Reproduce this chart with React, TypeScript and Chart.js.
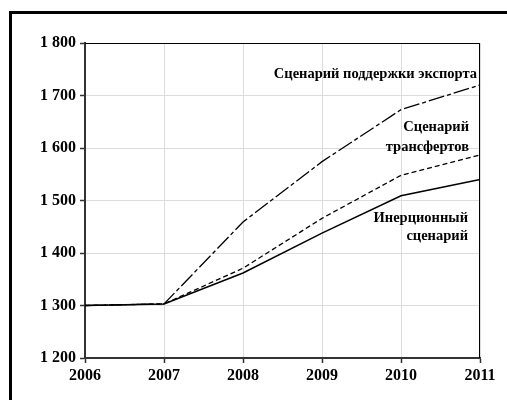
import React, { useEffect, useRef } from "react";
import { Chart, registerables } from "chart.js";

Chart.register(...registerables);

const years = ["2006", "2007", "2008", "2009", "2010", "2011"];
const inertial = [1300, 1303, 1362, 1438, 1509, 1540];
const transfer = [1300, 1303, 1371, 1466, 1548, 1587];
const exportSupport = [1300, 1303, 1459, 1574, 1673, 1720];

const labelExport = ["Сценарий поддержки экспорта"];
const labelTransfer = ["Сценарий", "трансфертов"];
const labelInertial = ["Инерционный", "сценарий"];

const FONT = "'Liberation Serif', 'Times New Roman', serif";

const fmt = (v: number) => {
  const s = String(Math.round(v));
  return s.replace(/\B(?=(\d{3})+(?!\d))/g, " ");
};

const annotPlugin = {
  id: "annot",
  afterDraw(chart: any) {
    const { ctx, chartArea } = chart;
    const y = chart.scales.y;
    ctx.save();
    ctx.strokeStyle = "#000";
    ctx.lineWidth = 1;
    ctx.beginPath();
    ctx.moveTo(chartArea.left, Math.round(chartArea.top) + 0.5);
    ctx.lineTo(chartArea.right, Math.round(chartArea.top) + 0.5);
    ctx.moveTo(Math.round(chartArea.right) - 0.5, chartArea.top);
    ctx.lineTo(Math.round(chartArea.right) - 0.5, chartArea.bottom);
    ctx.stroke();

    ctx.fillStyle = "#000";
    ctx.font = `bold 14.5px ${FONT}`;
    ctx.textAlign = "right";
    ctx.textBaseline = "middle";
    const draw = (lines: string[], dx: number, vals: number[]) => {
      lines.forEach((t, i) => {
        ctx.fillText(t, chartArea.right - dx, y.getPixelForValue(vals[i]));
      });
    };
    draw(labelExport, 3, [1740]);
    draw(labelTransfer, 11, [1640, 1602]);
    draw(labelInertial, 12, [1467, 1432]);
    ctx.restore();
  },
};

export default function App() {
  const ref = useRef<HTMLCanvasElement>(null);
  useEffect(() => {
    if (!ref.current) return;
    const chart = new Chart(ref.current, {
      type: "line",
      data: {
        labels: years,
        datasets: [
          {
            label: "Инерционный сценарий",
            data: inertial,
            borderColor: "#000",
            borderWidth: 1.5,
            pointRadius: 0,
            tension: 0,
          },
          {
            label: "Сценарий трансфертов",
            data: transfer,
            borderColor: "#000",
            borderWidth: 1.3,
            borderDash: [5, 3],
            pointRadius: 0,
            tension: 0,
          },
          {
            label: "Сценарий поддержки экспорта",
            data: exportSupport,
            borderColor: "#000",
            borderWidth: 1.3,
            borderDash: [16, 3, 4, 3],
            pointRadius: 0,
            tension: 0,
          },
        ],
      },
      options: {
        responsive: false,
        animation: false,
        layout: { padding: { top: 43, right: 27, left: 0, bottom: 0 } },
        plugins: {
          legend: { display: false },
          tooltip: { enabled: false },
        },
        scales: {
          x: {
            offset: false,
            afterFit: (s: any) => {
              s.height = 42;
            },
            grid: {
              color: "#dcdcdc",
              lineWidth: 1,
              tickLength: 5,
              tickColor: "#333",
              tickWidth: 1.5,
            },
            border: { display: true, color: "#333", width: 2 },
            ticks: {
              color: "#000",
              padding: 3,
              maxRotation: 0,
              font: { family: FONT, size: 16, weight: "bold" },
            },
          },
          y: {
            min: 1200,
            max: 1800,
            afterFit: (s: any) => {
              s.width = 85;
            },
            grid: {
              color: "#dcdcdc",
              lineWidth: 1,
              tickLength: 5,
              tickColor: "#333",
              tickWidth: 1.5,
            },
            border: { display: true, color: "#333", width: 2 },
            ticks: {
              stepSize: 100,
              color: "#000",
              padding: 4,
              font: { family: FONT, size: 16, weight: "bold" },
              callback: (v: any) => fmt(Number(v)),
            },
          },
        },
      },
      plugins: [annotPlugin],
    });
    return () => chart.destroy();
  }, []);

  return (
    <div
      style={{
        position: "fixed",
        left: 0,
        top: 0,
        width: 507,
        height: 400,
        overflow: "hidden",
        background: "#fff",
      }}
    >
      <div
        style={{
          position: "absolute",
          left: 9,
          top: 11,
          width: 600,
          height: 500,
          borderLeft: "3px solid #000",
          borderTop: "3px solid #000",
        }}
      />
      <canvas
        ref={ref}
        width={507}
        height={400}
        style={{ position: "absolute", left: 0, top: 0, width: 507, height: 400 }}
      />
    </div>
  );
}
